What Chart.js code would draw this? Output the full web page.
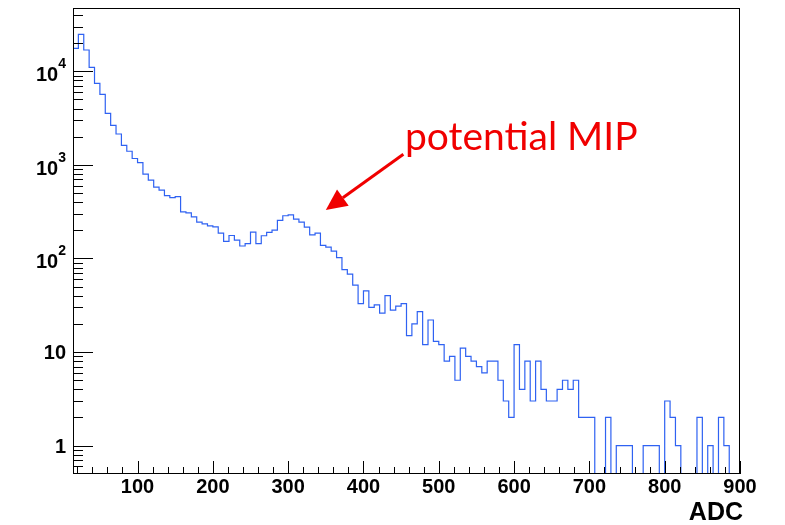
<!DOCTYPE html>
<html>
<head>
<meta charset="utf-8">
<script src="https://cdn.jsdelivr.net/npm/chart.js@4"></script>
<style>
  html, body { margin: 0; padding: 0; background: #fff; }
  #wrap { width: 785px; height: 525px; position: relative; }
</style>
</head>
<body>
<div id="wrap"><canvas id="adc-chart" width="785" height="525"></canvas></div>
<script>
// histograma ADC: 140 bins de 0 a 1000, se muestran los bins 2..125 (14.29 - 900)
const binWidth = 1000 / 140;
const firstBin = 2;
const counts = [
  17600, 24800, 16900, 11000, 7450, 5680, 3560, 2650, 2140, 1620,
  1400, 1170, 1060, 796, 687, 578, 537, 470, 448, 458,
  315, 307, 279, 245, 234, 223, 218, 187, 152, 176,
  157, 136, 144, 191, 144, 175, 190, 201, 255, 286,
  293, 263, 245, 216, 179, 187, 138, 132, 120, 102,
  76, 68, 52, 33, 45, 30, 32, 26, 40, 28,
  31, 33, 15, 20, 27, 12, 22, 13, 12, 8,
  9, 5, 11, 9, 8, 7, 6, 8, 8, 5,
  3, 2, 12, 4, 8, 3, 8, 4, 3, 3,
  4, 5, 4, 5, 2, 2, 2, 0, 0, 2,
  0, 1, 1, 1, 0, 0, 1, 1, 1, 0,
  3, 2, 1, 0, 0, 0, 2, 0, 1, 0,
  2, 1, 0, 0
];

// ejes
const xRange = [1000 / 140 * 2, 900];
const yRange = [0.51, 47500];
const xTickValues = [100, 200, 300, 400, 500, 600, 700, 800, 900];
const xTickLabels = ['100', '200', '300', '400', '500', '600', '700', '800', '900'];
const yTickValues = [1, 10, 100, 1000, 10000];
const yTickLabels = [['1', ''], ['10', ''], ['10', '2'], ['10', '3'], ['10', '4']];
const xTitle = 'ADC';

// anotación (en coordenadas de datos)
const noteText = 'potential MIP';
const noteAt = { x: 455, y: 1450 };
const arrowFrom = { x: 453, y: 1300 };
const arrowTo = { x: 350, y: 330 };

const FONT = '"Liberation Sans", Arial, sans-serif';
const zeroLevel = 0.05; // los bins vacíos se dibujan bajo el marco

// puntos del histograma: borde izquierdo de cada bin + cierre
const puntos = counts.map((c, i) => ({ x: (firstBin + i) * binWidth, y: c > 0 ? c : zeroLevel }));
puntos.push({ x: (firstBin + counts.length) * binWidth, y: counts[counts.length - 1] || zeroLevel });

const rootAxes = {
  id: 'rootAxes',
  afterDatasetsDraw(chart) {
    const ctx = chart.ctx;
    const a = chart.chartArea;
    const x = chart.scales.x;
    const y = chart.scales.y;
    ctx.save();
    ctx.strokeStyle = '#000';
    ctx.lineWidth = 1;

    // marco
    ctx.strokeRect(a.left + 0.5, a.top + 0.5, a.right - a.left - 1, a.bottom - a.top);

    // ticks eje Y (log)
    ctx.beginPath();
    for (let d = -1; d <= 5; d++) {
      for (let m = 1; m <= 9; m++) {
        const v = m * Math.pow(10, d);
        if (v < y.min || v > y.max) continue;
        const py = Math.round(y.getPixelForValue(v)) + 0.5;
        const len = m === 1 ? 20 : 10;
        ctx.moveTo(a.left, py);
        ctx.lineTo(a.left + len, py);
      }
    }
    // ticks eje X
    for (let v = 20; v <= 900; v += 20) {
      if (v < x.min) continue;
      const px = Math.round(x.getPixelForValue(v)) + 0.5;
      const len = v % 100 === 0 ? 13 : 7;
      ctx.moveTo(px, a.bottom + 1);
      ctx.lineTo(px, a.bottom + 1 - len);
    }
    ctx.stroke();

    // etiquetas
    ctx.fillStyle = '#000';
    ctx.font = 'bold 20px ' + FONT;
    ctx.textAlign = 'center';
    ctx.textBaseline = 'alphabetic';
    xTickValues.forEach((v, i) => {
      ctx.fillText(xTickLabels[i], x.getPixelForValue(v), a.bottom + 20);
    });

    const rightEdge = a.left - 7;
    yTickValues.forEach((v, i) => {
      const [base, sup] = yTickLabels[i];
      const py = y.getPixelForValue(v);
      ctx.textAlign = 'right';
      if (sup) {
        ctx.font = 'bold 14px ' + FONT;
        const supW = ctx.measureText(sup).width;
        ctx.fillText(sup, rightEdge, py - 3);
        ctx.font = 'bold 20px ' + FONT;
        ctx.fillText(base, rightEdge - supW, py + 10);
      } else {
        ctx.font = 'bold 20px ' + FONT;
        ctx.fillText(base, rightEdge, py + 7);
      }
    });

    ctx.font = 'bold 25px ' + FONT;
    ctx.textAlign = 'right';
    ctx.fillText(xTitle, a.right + 3, a.bottom + 47);
    ctx.restore();
  },
  afterDraw(chart) {
    const ctx = chart.ctx;
    const x = chart.scales.x;
    const y = chart.scales.y;
    const red = '#f00000';
    ctx.save();
    ctx.fillStyle = red;
    ctx.strokeStyle = red;
    ctx.font = '39px Lato, "Open Sans", sans-serif';
    ctx.textAlign = 'left';
    ctx.textBaseline = 'alphabetic';
    ctx.fillText(noteText, x.getPixelForValue(noteAt.x), y.getPixelForValue(noteAt.y));

    const x0 = x.getPixelForValue(arrowFrom.x), y0 = y.getPixelForValue(arrowFrom.y);
    const x1 = x.getPixelForValue(arrowTo.x), y1 = y.getPixelForValue(arrowTo.y);
    const ang = Math.atan2(y1 - y0, x1 - x0);
    const headLen = 21, headW = 10;
    const bx = x1 - headLen * Math.cos(ang), by = y1 - headLen * Math.sin(ang);
    ctx.lineWidth = 3;
    ctx.beginPath();
    ctx.moveTo(x0, y0);
    ctx.lineTo(bx, by);
    ctx.stroke();
    ctx.beginPath();
    ctx.moveTo(x1, y1);
    ctx.lineTo(bx + headW * Math.sin(ang), by - headW * Math.cos(ang));
    ctx.lineTo(bx - headW * Math.sin(ang), by + headW * Math.cos(ang));
    ctx.closePath();
    ctx.fill();
    ctx.restore();
  }
};

new Chart(document.getElementById('adc-chart'), {
  type: 'line',
  data: {
    datasets: [{
      label: 'ADC',
      data: puntos,
      stepped: true,
      borderColor: '#2f62f2',
      borderWidth: 1.2,
      pointRadius: 0,
      fill: false,
      tension: 0
    }]
  },
  options: {
    responsive: false,
    animation: false,
    devicePixelRatio: 1,
    layout: { padding: { left: 73, right: 45, top: 8, bottom: 52 } },
    plugins: { legend: { display: false }, tooltip: { enabled: false } },
    scales: {
      x: { type: 'linear', min: xRange[0], max: xRange[1], display: false },
      y: { type: 'logarithmic', min: yRange[0], max: yRange[1], display: false }
    }
  },
  plugins: [rootAxes]
});
</script>
</body>
</html>
